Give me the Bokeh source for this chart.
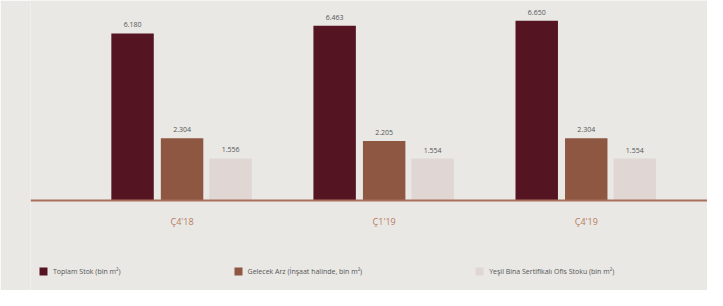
from bokeh.plotting import figure
from bokeh.models import ColumnDataSource, Range1d, Legend, LegendItem, Span
from bokeh.transform import dodge
from bokeh.core.properties import value
from bokeh.embed import file_html
from bokeh.resources import INLINE

periods = ["Ç4'18", "Ç1'19", "Ç4'19"]
total_stock = [6180, 6463, 6650]
future_supply = [2304, 2205, 2304]
green_stock = [1556, 1554, 1554]
total_labels = ["6.180", "6.463", "6.650"]
future_labels = ["2.304", "2.205", "2.304"]
green_labels = ["1.556", "1.554", "1.554"]
series_names = [
    "Toplam Stok (bin m²)",
    "Gelecek Arz (İnşaat halinde, bin m²)",
    "Yeşil Bina Sertifikalı Ofis Stoku (bin m²)",
]
colors = ["#551422", "#8d5741", "#e0d7d4"]

src = ColumnDataSource(dict(
    x=list(range(len(periods))), period=periods,
    total=total_stock, future=future_supply, green=green_stock,
    tl=total_labels, fl=future_labels, gl=green_labels,
))

BG = "#e9e8e5"
FONT = "Open Sans"

p = figure(width=707, height=290, output_backend="svg", toolbar_location=None,
           x_range=Range1d(-0.75, 2.6), y_range=Range1d(-3330, 7400),
           min_border_left=30, min_border_right=0, min_border_top=0,
           min_border_bottom=0)
p.background_fill_color = BG
p.border_fill_color = BG
p.outline_line_color = None
p.grid.visible = False
p.axis.visible = False

offs = [-0.245, 0.0, 0.24]
fields = ["total", "future", "green"]
lfields = ["tl", "fl", "gl"]
rends = []
for off, f, lf, c in zip(offs, fields, lfields, colors):
    r = p.vbar(x=dodge("x", off, range=p.x_range), top=f, width=0.21, bottom=0,
               source=src, fill_color=c, line_color=None)
    rends.append(r)
    p.text(x=dodge("x", off, range=p.x_range), y=f, text=lf, source=src,
           text_align="center", text_baseline="bottom", y_offset=-6,
           text_font_size="7px", text_color="#555555", text_font=value(FONT))

p.add_layout(Span(location=0, dimension="width", line_color="#a9705a", line_width=2))

p.text(x="x", y=0, text="period", source=src, text_align="center",
       text_baseline="top", y_offset=14, text_font_size="9px",
       text_color="#b87c5e", text_font=value(FONT))

legend = Legend(items=[LegendItem(label=n, renderers=[r]) for n, r in zip(series_names, rends)],
                orientation="horizontal", location=(8, 14))
legend.spacing = 112
legend.glyph_width = 10
legend.glyph_height = 10
legend.label_text_font_size = "7px"
legend.label_text_color = "#555555"
legend.label_text_font = FONT
legend.background_fill_alpha = 0
legend.border_line_color = None
legend.padding = 0
legend.margin = 0
p.add_layout(legend)

open("out.html", "w").write(file_html(p, INLINE))
